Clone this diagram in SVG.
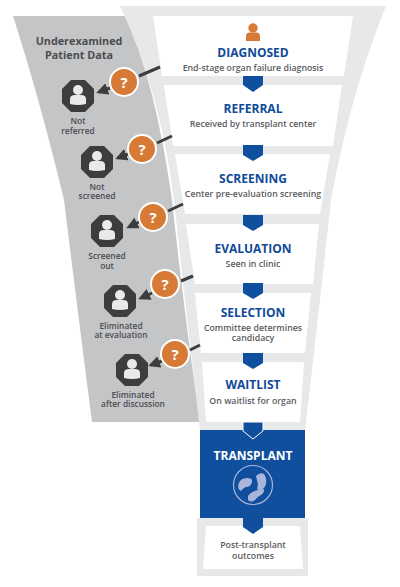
<svg xmlns="http://www.w3.org/2000/svg" width="400" height="587" viewBox="0 0 400 587">
<style>
text{font-family:"Open Sans","Noto Sans",sans-serif;text-anchor:middle}
.t{font-size:12px;font-weight:700;fill:#0f4a9a}
.s{font-size:8.8px;font-weight:600;fill:#5a5c60}
.l{font-size:8.4px;font-weight:600;fill:#4c4d50}
.box{fill:#fff}
.chev{fill:#0f4f9e}
.q{fill:#d67a36;stroke:#fff;stroke-width:2}
.qt{font-size:15px;font-weight:700;fill:#fff}
.oct{fill:#3d3d3f}
.pp{fill:#e9eaec}
.dash{stroke:#3d3d3f;stroke-width:3;fill:none}
.org{fill:#a9b5da}
</style>
<defs>
<marker id="ah" markerWidth="4" markerHeight="4" refX="3" refY="2" orient="auto"><path d="M0,0L4,2L0,4Z" fill="#3d3d3f"/></marker>
<g id="octa"><path class="oct" d="M-7,-16H7L16,-7V7L7,16H-7L-16,7V-7Z"/><circle class="pp" cx="0" cy="-6" r="5"/><path class="pp" d="M-8,8V3Q-8,-1 -3,-1H3Q8,-1 8,3V8Q0,10 -8,8Z"/></g>
</defs>
<rect width="400" height="587" fill="#fff"/>
<path d="M13,16H125Q155,80 172,200Q185,320 200,422H92Q75,290 64,200Q40,100 13,16Z" fill="#c4c5c7"/>
<path d="M120,6H386Q350,95 331,200Q318,320 305,430V518H308V576H197V518H200V430Q187,320 174,200Q160,90 120,6Z" fill="#e7e8ea"/>
<g id="funnel-steps">
<g id="diagnosed"><path class="box" d="M153,16H353L344,76H162Z"/><circle cx="253" cy="28" r="4.7" fill="#d67a36"/><path d="M246,41V36Q246,32.500 250,32.500H256Q260,32.500 260,36V41Z" fill="#d67a36"/><text class="t" x="253" y="56.500">DIAGNOSED</text><text class="s" x="253" y="71">End-stage organ failure diagnosis</text></g>
<g id="referral"><path class="box" d="M164,85H342L333,146H173Z"/><text class="t" x="253" y="112.500">REFERRAL</text><text class="s" x="253" y="127">Received by transplant center</text></g>
<g id="screening"><path class="box" d="M175,154H330L320,214H185Z"/><text class="t" x="253" y="182.500">SCREENING</text><text class="s" x="253" y="197">Center pre-evaluation screening</text></g>
<g id="evaluation"><path class="box" d="M186,224H319L313,284H195Z"/><text class="t" x="253" y="252.500">EVALUATION</text><text class="s" x="253" y="267">Seen in clinic</text></g>
<g id="selection"><path class="box" d="M195,293H311L305,353H201Z"/><text class="t" x="253" y="316.500">SELECTION</text><text class="s" x="253" y="330.500">Committee determines</text><text class="s" x="253" y="341">candidacy</text></g>
<g id="waitlist"><path class="box" d="M202,362H304L300,422H206Z"/><text class="t" x="253" y="389">WAITLIST</text><text class="s" x="253" y="403.500">On waitlist for organ</text></g>
<g id="post"><path class="box" d="M206,526H300L303,569H203Z"/><text class="s" x="253" y="548">Post-transplant</text><text class="s" x="253" y="558.500">outcomes</text></g>
<g id="transplant"><rect x="200" y="430" width="105" height="88" fill="#0f4f9e"/><text x="253" y="459.500" font-size="12" font-weight="700" fill="#fff">TRANSPLANT</text><circle cx="253" cy="485" r="19.500" fill="none" stroke="#a9b5da" stroke-width="1.200"/><path class="org" d="M238.500,484Q240,478 247,478Q253,478 252,482Q251,487 246,487Q243,488 241,491Q237,489 238.500,484Z"/><path class="org" d="M256,476Q260,472 264,474Q267,478 266,484Q264,490 259,490Q256,490 258,485Q257,480 256,476Z"/><path class="org" d="M248,496Q252,490 264,489Q265,492 261,495Q258,496 255,500Q251,503 248,500Z"/></g>
</g>
<g id="connectors">
<path class="chev" d="M243,76H263V85L253,92L243,85Z"/>
<path class="chev" d="M243,145H263V155L253,161L243,155Z"/>
<path class="chev" d="M243,215H263V225L253,231L243,225Z"/>
<path class="chev" d="M243,283H263V293L253,299L243,293Z"/>
<path class="chev" d="M243,353H263V363L253,369L243,363Z"/>
<path class="chev" stroke="#fff" stroke-width="1" d="M243,422H263V431L253,439L243,431Z"/>
<path class="chev" d="M243,518H263V527L253,534L243,527Z"/>
<path class="dash" d="M139,76L160,67"/><path class="dash" d="M157,143L172,136"/><path class="dash" d="M168,211L183,204"/><path class="dash" d="M181,281L193,276"/><path class="dash" d="M190,350L200,345"/>
<path class="dash" marker-end="url(#ah)" d="M110,88L99,92"/><path class="dash" marker-end="url(#ah)" d="M128,154L118,158"/><path class="dash" marker-end="url(#ah)" d="M139,222L129,227"/><path class="dash" marker-end="url(#ah)" d="M152,293L141,298"/><path class="dash" marker-end="url(#ah)" d="M162,361L151,365"/>
</g>
<g id="q1"><circle class="q" cx="124" cy="82" r="14"/><text class="qt" x="124" y="87.500">?</text></g>
<g id="q2"><circle class="q" cx="142" cy="149" r="14"/><text class="qt" x="142" y="154.500">?</text></g>
<g id="q3"><circle class="q" cx="153" cy="217" r="14"/><text class="qt" x="153" y="222.500">?</text></g>
<g id="q4"><circle class="q" cx="165" cy="284" r="14"/><text class="qt" x="165" y="289.500">?</text></g>
<g id="q5"><circle class="q" cx="175" cy="354" r="14"/><text class="qt" x="175" y="359.500">?</text></g>
<g id="underexamined"><text x="79" y="44.500" font-size="10.800" font-weight="700" fill="#4c4d50">Underexamined</text><text x="79" y="58.500" font-size="10.800" font-weight="700" fill="#4c4d50">Patient Data</text></g>
<g id="not-referred"><use href="#octa" x="78" y="96"/><text class="l" x="78" y="124">Not</text><text class="l" x="78" y="133.500">referred</text></g>
<g id="not-screened"><use href="#octa" x="97" y="162"/><text class="l" x="97" y="189.500">Not</text><text class="l" x="97" y="199">screened</text></g>
<g id="screened-out"><use href="#octa" x="107" y="231"/><text class="l" x="107" y="259">Screened</text><text class="l" x="107" y="268.500">out</text></g>
<g id="eliminated-eval"><use href="#octa" x="120" y="301"/><text class="l" x="121" y="328.500">Eliminated</text><text class="l" x="121" y="338">at evaluation</text></g>
<g id="eliminated-disc"><use href="#octa" x="132" y="370"/><text class="l" x="133" y="397.500">Eliminated</text><text class="l" x="133" y="407">after discussion</text></g>
</svg>
